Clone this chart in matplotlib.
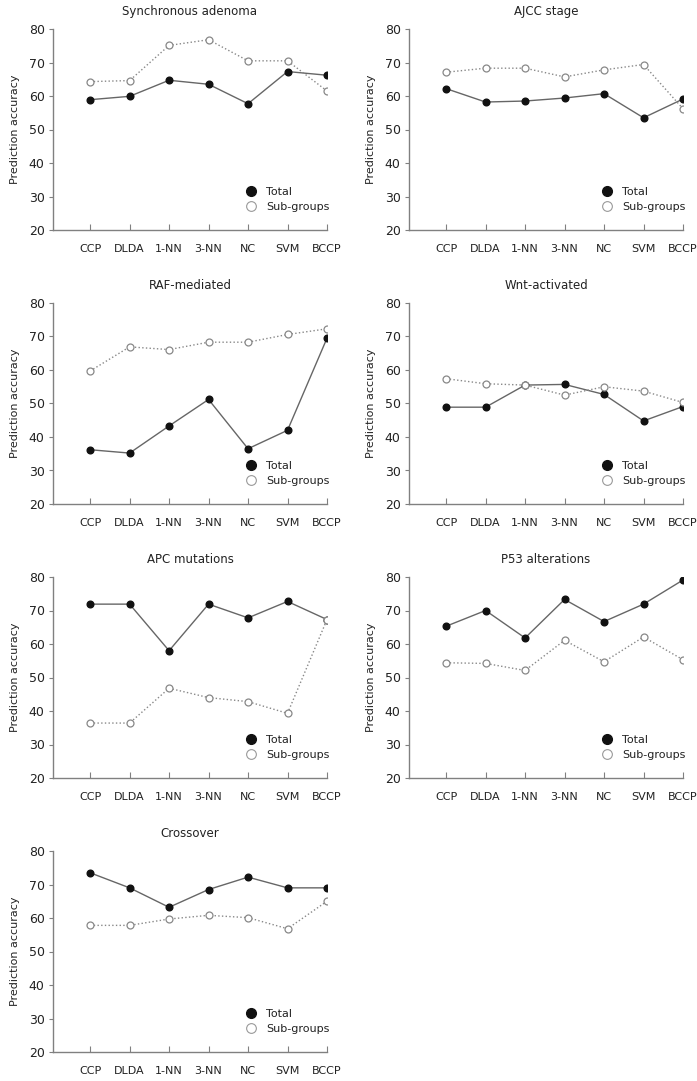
import matplotlib
matplotlib.use("Agg")
import matplotlib.pyplot as plt
from matplotlib.lines import Line2D

plt.rcParams['font.family'] = ['DejaVu Sans']

methods = ["CCP", "DLDA", "1-NN", "3-NN", "NC", "SVM", "BCCP"]

titles = ["Synchronous adenoma", "AJCC stage", "RAF-mediated", "Wnt-activated",
          "APC mutations", "P53 alterations", "Crossover"]

total = [
    [58.9, 59.9, 64.7, 63.5, 57.7, 67.3, 66.2],
    [62.2, 58.2, 58.5, 59.4, 60.7, 53.5, 59.1],
    [36.2, 35.2, 43.3, 51.2, 36.5, 42.0, 69.5],
    [48.9, 48.9, 55.5, 55.7, 52.7, 44.8, 49.1],
    [71.9, 71.9, 58.0, 71.9, 67.8, 72.7, 67.3],
    [65.3, 70.0, 61.8, 73.3, 66.7, 71.9, 79.1],
    [73.5, 69.0, 63.2, 68.5, 72.2, 69.0, 69.0],
]

subgroups = [
    [64.3, 64.6, 75.1, 76.8, 70.5, 70.5, 61.5],
    [67.1, 68.3, 68.3, 65.7, 67.8, 69.4, 56.2],
    [59.7, 66.9, 66.1, 68.3, 68.3, 70.6, 72.3],
    [57.4, 55.9, 55.5, 52.5, 55.0, 53.7, 50.3],
    [36.4, 36.4, 46.8, 44.0, 42.8, 39.3, 67.3],
    [54.4, 54.2, 52.1, 61.1, 54.7, 62.1, 55.3],
    [57.8, 57.8, 59.7, 60.8, 60.1, 56.8, 65.0],
]

W, H = 697, 1081
fig = plt.figure(figsize=(W / 100, H / 100), dpi=100)

lefts = [53, 409]
tops = [29, 303, 577, 851]
aw, ah = 274, 201

axcol = "#808080"
txt = "#222222"

for i in range(len(titles)):
    r, c = divmod(i, 2)
    ax = fig.add_axes([lefts[c] / W, 1 - (tops[r] + ah) / H, aw / W, ah / H])
    x = list(range(len(methods)))
    ax.plot(x, total[i], '-', color="#666666", lw=1.0, marker='o', ms=4.8,
            mfc="#111111", mec="#111111", zorder=3)
    ax.plot(x, subgroups[i], ':', color="#888888", lw=1.0, marker='o', ms=5.0,
            mfc="white", mec="#888888", mew=0.9, zorder=4)
    ax.set_xlim(-0.94, 6)
    ax.set_ylim(20, 80)
    ax.set_yticks([20, 30, 40, 50, 60, 70, 80])
    ax.set_xticks(x)
    ax.set_xticklabels(methods)
    for s in ['top', 'right']:
        ax.spines[s].set_visible(False)
    for s in ['left', 'bottom']:
        ax.spines[s].set_color(axcol)
        ax.spines[s].set_linewidth(1.0)
    ax.tick_params(axis='y', direction='out', length=3, color=axcol,
                   labelsize=9, labelcolor=txt, pad=3)
    ax.tick_params(axis='x', direction='in', length=4, color=axcol,
                   labelsize=8, labelcolor=txt, pad=10)
    ax.set_ylabel("Prediction accuracy", fontsize=8, color=txt, labelpad=6)
    ax.set_title(titles[i], fontsize=8.5, color=txt, pad=10)

    handles = [
        Line2D([], [], ls='none', marker='o', ms=7, mfc="#111111", mec="#111111"),
        Line2D([], [], ls='none', marker='o', ms=7, mfc="white", mec="#999999", mew=0.8),
    ]
    leg = ax.legend(handles, ["Total", "Sub-groups"], loc='lower right',
                    bbox_to_anchor=(1.045, 0.04), frameon=False, fontsize=8,
                    handletextpad=0.75, labelspacing=0.45, handlelength=1.2)
    for t in leg.get_texts():
        t.set_color(txt)

fig.savefig("out.png", dpi=100)
